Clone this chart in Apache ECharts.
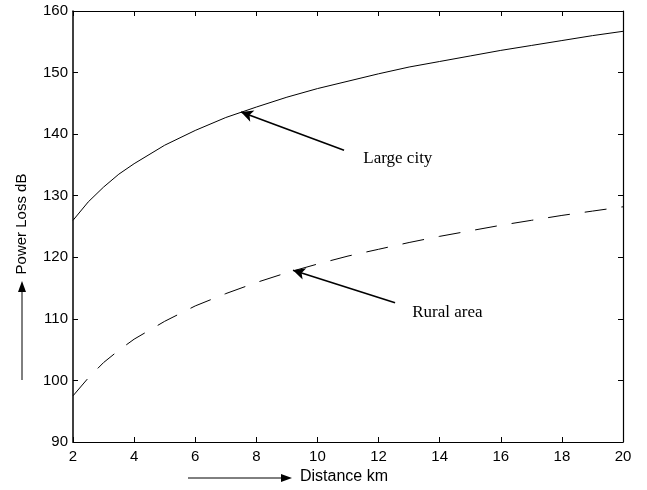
<!DOCTYPE html>
<html><head><meta charset="utf-8">
<script src="https://cdn.jsdelivr.net/npm/echarts@6/dist/echarts.min.js"></script>
<style>html,body{margin:0;padding:0;background:#fff}#c{width:647px;height:490px}</style>
</head><body><div id="c"></div>
<script>
// Distance (km)
const distance = [2, 2.5, 3, 3.5, 4, 5, 6, 7, 8, 9, 10, 11, 12, 13, 14, 15, 16, 17, 18, 19, 20];
// Power loss (dB)
const largeCity = [126.0, 129.0, 131.4, 133.5, 135.2, 138.2, 140.6, 142.7, 144.4, 146.0, 147.4, 148.6, 149.8, 150.9, 151.8, 152.7, 153.6, 154.4, 155.2, 156.0, 156.7];
const ruralArea = [97.5, 100.4, 102.9, 104.9, 106.7, 109.6, 112.1, 114.1, 115.9, 117.5, 118.9, 120.2, 121.3, 122.4, 123.4, 124.3, 125.2, 126.0, 126.8, 127.5, 128.2];
const xTickLabels = [2, 4, 6, 8, 10, 12, 14, 16, 18, 20];
const yTickLabels = [90, 100, 110, 120, 130, 140, 150, 160];
const seriesNames = ['Large city', 'Rural area'];
// annotation anchors in data space: arrow tip, arrow tail, label start
const cityArrowTip = [7.5, 143.6], cityArrowTail = [10.87, 137.4], cityLabelAt = [11.5, 136.0];
const ruralArrowTip = [9.2, 117.9], ruralArrowTail = [12.54, 112.6], ruralLabelAt = [13.1, 111.0];

const SANS = '"Liberation Sans", Arial, sans-serif';
const SERIF = '"Liberation Serif", "Times New Roman", serif';

const chart = echarts.init(document.getElementById('c'), null, {renderer: 'canvas'});

function arrowLine(tip, tail, width) {
  return {
    silent: true, animation: false,
    symbol: ['arrow', 'none'], symbolSize: [9, 12],
    lineStyle: {color: '#000', width: width, type: 'solid'},
    label: {show: false},
    emphasis: {disabled: true},
    data: [[{coord: tip}, {coord: tail}]]
  };
}

const axisCommon = {
  min: 2, max: 20, interval: 2, type: 'value'
};

chart.setOption({
  animation: false,
  backgroundColor: '#fff',
  grid: {left: 73, right: 24, top: 11, bottom: 48, containLabel: false},
  xAxis: [
    Object.assign({}, axisCommon, {
      position: 'bottom',
      axisLine: {show: true, onZero: false, lineStyle: {color: '#000', width: 1.2}},
      axisTick: {show: true, inside: true, length: 5, lineStyle: {color: '#000'}},
      axisLabel: {color: '#000', fontFamily: SANS, fontSize: 15, margin: 7,
        formatter: v => xTickLabels.includes(v) ? String(v) : ''},
      splitLine: {show: false}
    }),
    Object.assign({}, axisCommon, {
      position: 'top',
      axisLine: {show: true, onZero: false, lineStyle: {color: '#000', width: 1}},
      axisTick: {show: true, inside: true, length: 5, lineStyle: {color: '#000'}},
      axisLabel: {show: false},
      splitLine: {show: false}
    })
  ],
  yAxis: [
    {
      type: 'value', min: 90, max: 160, interval: 10, position: 'left',
      axisLine: {show: true, onZero: false, lineStyle: {color: '#000', width: 1.5}},
      axisTick: {show: true, inside: true, length: 5, lineStyle: {color: '#000'}},
      axisLabel: {color: '#000', fontFamily: SANS, fontSize: 15, margin: 5,
        formatter: v => yTickLabels.includes(v) ? String(v) : ''},
      splitLine: {show: false}
    },
    {
      type: 'value', min: 90, max: 160, interval: 10, position: 'right',
      axisLine: {show: true, onZero: false, lineStyle: {color: '#000', width: 1.2}},
      axisTick: {show: true, inside: true, length: 5, lineStyle: {color: '#000'}},
      axisLabel: {show: false},
      splitLine: {show: false}
    }
  ],
  series: [
    {
      name: seriesNames[0], type: 'line', xAxisIndex: 0, yAxisIndex: 0,
      data: distance.map((d, i) => [d, largeCity[i]]),
      showSymbol: false, symbol: 'none', smooth: false,
      lineStyle: {color: '#000', width: 1, type: 'solid'},
      markLine: arrowLine(cityArrowTip, cityArrowTail, 1.6)
    },
    {
      name: seriesNames[1], type: 'line', xAxisIndex: 0, yAxisIndex: 0,
      data: distance.map((d, i) => [d, ruralArea[i]]),
      showSymbol: false, symbol: 'none', smooth: false,
      lineStyle: {color: '#000', width: 1, type: [22, 15]},
      markLine: arrowLine(ruralArrowTip, ruralArrowTail, 1.6)
    }
  ]
});

const cityPx = chart.convertToPixel({gridIndex: 0}, cityLabelAt);
const ruralPx = chart.convertToPixel({gridIndex: 0}, ruralLabelAt);

chart.setOption({
  graphic: [
    {type: 'text', left: cityPx[0], top: cityPx[1] - 9, silent: true,
      style: {text: seriesNames[0], font: '17px ' + SERIF, fill: '#000'}},
    {type: 'text', left: ruralPx[0], top: ruralPx[1] - 9, silent: true,
      style: {text: seriesNames[1], font: '17px ' + SERIF, fill: '#000'}},
    // x-axis title with arrow
    {type: 'line', silent: true, shape: {x1: 188, y1: 478, x2: 283, y2: 478},
      style: {stroke: '#000', lineWidth: 1}},
    {type: 'polygon', silent: true, shape: {points: [[292, 478], [281, 474], [281, 482]]},
      style: {fill: '#000'}},
    {type: 'text', left: 300, top: 469, silent: true,
      style: {text: 'Distance km', font: '16px ' + SANS, fill: '#000'}},
    // y-axis title with arrow
    {type: 'line', silent: true, shape: {x1: 22, y1: 380, x2: 22, y2: 290},
      style: {stroke: '#000', lineWidth: 1}},
    {type: 'polygon', silent: true, shape: {points: [[22, 281], [18, 292], [26, 292]]},
      style: {fill: '#000'}},
    {type: 'text', x: 22, y: 224, rotation: Math.PI / 2, silent: true,
      style: {text: 'Power Loss dB', font: '15px ' + SANS, fill: '#000',
        align: 'center', verticalAlign: 'middle'}}
  ]
});
</script>
</body></html>
